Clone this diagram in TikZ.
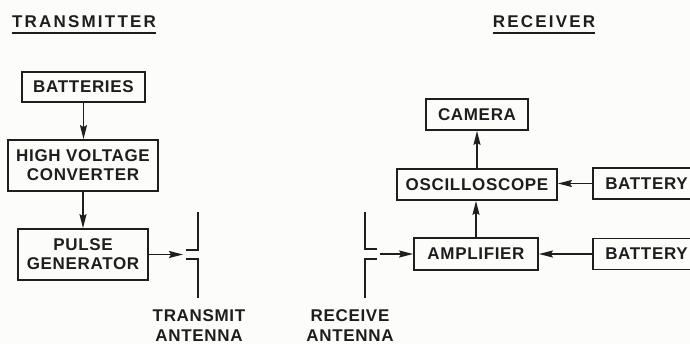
\documentclass[tikz,border=0pt]{standalone}
\usepackage{fontspec}
\usetikzlibrary{arrows.meta,positioning,calc}
\newfontfamily\letterfont{Liberation Sans}[LetterSpace=4]
\newfontfamily\headfont{Liberation Sans}[LetterSpace=13]
\definecolor{inkBlack}{RGB}{30, 30, 30}
\definecolor{paper}{RGB}{252, 252, 250}

\begin{document}
\begin{tikzpicture}[
        x=1pt, y=-1pt,
        block/.style={draw=inkBlack, line width=1.8pt, align=center, inner sep=0pt, text=inkBlack, font=\letterfont\bfseries\fontsize{17pt}{19pt}\selectfont},
        title/.style={anchor=base, inner sep=0pt, text=inkBlack, font=\headfont\bfseries\fontsize{17pt}{17pt}\selectfont},
        antlabel/.style={align=center, inner sep=0pt, text=inkBlack, font=\letterfont\bfseries\fontsize{17pt}{20pt}\selectfont},
        wire/.style={line width=1.8pt, draw=inkBlack},
        arr/.style={-{Stealth[length=14pt, width=7pt, inset=2pt]}, line width=1.8pt, draw=inkBlack}
    ]
        \useasboundingbox (0,0) rectangle (690,344);
        \clip (0,0) rectangle (690,344);
        \fill[paper] (0,0) rectangle (690,344);

        % Transmitter
        \node[title] (txtitle) at (84,28) {TRANSMITTER};
        \draw[wire] ([yshift=-5pt]txtitle.base west) -- ([yshift=-5pt]txtitle.base east);
        \node[block, minimum width=123pt, minimum height=30pt] (batts) at (83.5,87) {BATTERIES};
        \node[block, minimum width=150pt, minimum height=51pt] (hvc) at (83,165.5) {HIGH VOLTAGE\\CONVERTER};
        \node[block, minimum width=130pt, minimum height=51pt] (pulse) at (83,254.5) {PULSE\\GENERATOR};
        \coordinate (txant) at (183,254.5);
        \draw[arr] (batts.south) -- (batts.south |- hvc.north);
        \draw[arr] (hvc.south) -- (hvc.south |- pulse.north);
        \draw[arr] (pulse) -- (txant);
        \draw[wire] (txant) ++(3,-4.5) -- ++(12,0) -- ++(0,-38);
        \draw[wire] (txant) ++(3,4.5) -- ++(12,0) -- ++(0,39);
        \node[antlabel] (txlabel) at (199,326) {TRANSMIT\\ANTENNA};

        % Receiver
        \node[title] (rxtitle) at (544,28) {RECEIVER};
        \draw[wire] ([yshift=-5pt]rxtitle.base west) -- ([yshift=-5pt]rxtitle.base east);
        \node[block, minimum width=102pt, minimum height=31pt] (camera) at (477,114.5) {CAMERA};
        \node[block, minimum width=160pt, minimum height=31pt] (scope) at (477,184.5) {OSCILLOSCOPE};
        \node[block, minimum width=124pt, minimum height=32pt] (amp) at (476,254) {AMPLIFIER};
        \node[block, minimum width=107pt, minimum height=31pt] (scopebat) at (646.5,183.5) {BATTERY};
        \node[block, minimum width=107pt, minimum height=31pt] (ampbat) at (646.5,254) {BATTERY};
        \coordinate (rxant) at (380,254);
        \draw[wire] (rxant) ++(-3,-5) -- ++(-12,0) -- ++(0,-37);
        \draw[wire] (rxant) ++(-3,5) -- ++(-12,0) -- ++(0,39);
        \draw[arr] (rxant) -- (amp);
        \draw[arr] (amp.north) -- (amp.north |- scope.south);
        \draw[arr] (scope.north) -- (scope.north |- camera.south);
        \draw[arr] (scopebat.west) -- (scopebat.west -| scope.east);
        \draw[arr] (ampbat) -- (amp);
        \node[antlabel] (rxlabel) at (350,326) {RECEIVE\\ANTENNA};
    \end{tikzpicture}
\end{document}
